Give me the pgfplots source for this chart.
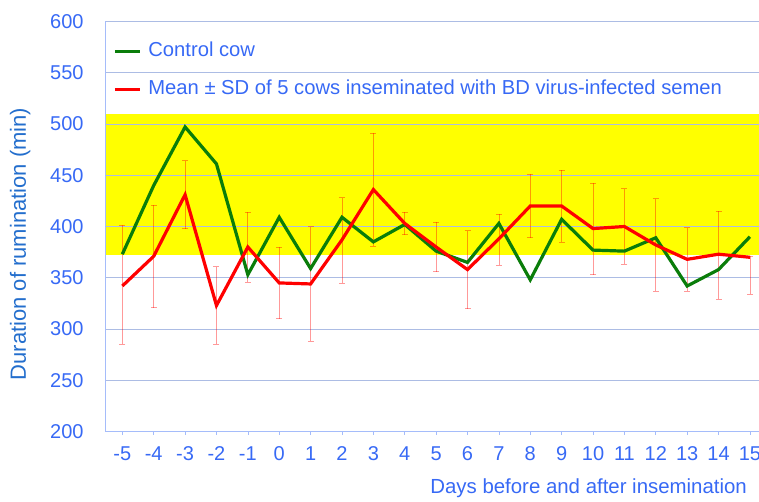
\documentclass[border=0pt]{standalone}
\usepackage{pgfplots}
\pgfplotsset{compat=1.18}
\usepackage{pgfplotstable}
\usepackage{fontspec}
\setmainfont{Liberation Sans}
\definecolor{tickblue}{RGB}{55,105,245}
\definecolor{labelblue}{RGB}{35,110,205}
\definecolor{axisblue}{RGB}{165,188,250}
\definecolor{gridblue}{RGB}{172,188,228}
\definecolor{cowgreen}{RGB}{10,125,10}
\definecolor{cowred}{RGB}{255,0,0}
\definecolor{bandyellow}{RGB}{255,255,0}

\pgfplotstableread{
x   y    ep  em
-5  342  59  57
-4  371  50  50
-3  431  33  33
-2  323  38  38
-1  380  34  34
0   345  35  35
1   344  56  56
2   387  41  42
3   436  55  55
4   403  11  11
5   380  24  24
6   358  38  38
7   388  24  26
8   420  31  31
9   420  35  35
10  398  44  45
11  400  37  37
12  382  45  45
13  368  31  31
14  373  42  44
15  370  1   36
}\reddata

\pgfplotstableread{
x   y
-5  373
-4  440
-3  497
-2  461
-1  353
0   409
1   359
2   409
3   385
4   402
5   376
6   365
7   403
8   348
9   407
10  377
11  376
12  389
13  342
14  358
15  390
}\greendata

\begin{document}
\begin{tikzpicture}
\begin{axis}[
  set layers=standard,
  anchor=south west, at={(0,0)},
  scale only axis, width=653.3pt, height=410.4pt,
  xmin=-5.53, xmax=15.29, ymin=200, ymax=600,
  xtick={-5,-4,-3,-2,-1,0,1,2,3,4,5,6,7,8,9,10,11,12,13,14,15},
  xticklabels={-5,-4,-3,-2,-1,0,1,2,3,4,5,6,7,8,9,10,11,12,13,14,15},
  ytick={200,250,300,350,400,450,500,550,600},
  yticklabels={200,250,300,350,400,450,500,550,600},
  axis x line=bottom, axis y line=left,
  axis line style={-, draw=axisblue, line width=0.8pt},
  ymajorgrids, grid style={draw=gridblue, line width=0.8pt},
  tick align=outside, major tick length=3pt,
  x tick style={draw=axisblue, line width=0.6pt},
  y tick style={draw=none},
  tick label style={font=\fontsize{20}{24}\selectfont, text=tickblue},
  yticklabel style={anchor=east, inner sep=0pt, xshift=-19pt},
  xticklabel style={anchor=north, inner sep=0pt, yshift=-12pt},
  xlabel={Days before and after insemination},
  xlabel style={at={(axis description cs:1,0)}, anchor=base east, yshift=-61.5pt, xshift=-12pt, inner sep=0pt, font=\fontsize{20.4}{24}\selectfont, text=tickblue},
  ylabel={Duration of rumination (min)},
  ylabel style={at={(axis description cs:0,0.5)}, anchor=base, yshift=79.7pt, xshift=-17.5pt, inner sep=0pt, font=\fontsize{22}{26}\selectfont, text=labelblue},
  legend style={at={(axis description cs:0,1)}, anchor=north west, xshift=7.5pt, yshift=-20.7pt, draw=none, fill=none, inner sep=0pt, font=\fontsize{20.2}{24}\selectfont, text=tickblue, row sep=20pt, column sep=7pt, nodes={inner sep=0pt, text height=14pt, text depth=4pt}},
  legend cell align=left,
  legend image code/.code={\draw[#1, line width=3pt] (0pt,0pt) -- (25pt,0pt);},
]
\addplot[forget plot, draw=none, fill=bandyellow, on layer=axis background] coordinates {(-5.53,372) (15.29,372) (15.29,509.5) (-5.53,509.5)} -- cycle;
\addplot[forget plot, draw=none, mark=none,
  error bars/.cd, y dir=both, y explicit,
  error bar style={line width=0.7pt, draw=cowred, opacity=0.4},
  error mark options={rotate=90, mark size=3pt, line width=0.7pt, draw=cowred, opacity=0.4}]
  table[x=x, y=y, y error plus=ep, y error minus=em] {\reddata};
\addplot[cowgreen, line width=3.2pt, line join=miter, mark=none] table[x=x, y=y] {\greendata};
\addlegendentry{Control cow}
\addplot[cowred, line width=3.2pt, line join=miter, mark=none] table[x=x, y=y] {\reddata};
\addlegendentry{Mean ± SD of 5 cows inseminated with BD virus-infected semen}
\end{axis}
\pgfresetboundingbox
\useasboundingbox (-105.7pt,-69.3pt) rectangle (653.3pt,431.7pt);
\end{tikzpicture}
\end{document}
